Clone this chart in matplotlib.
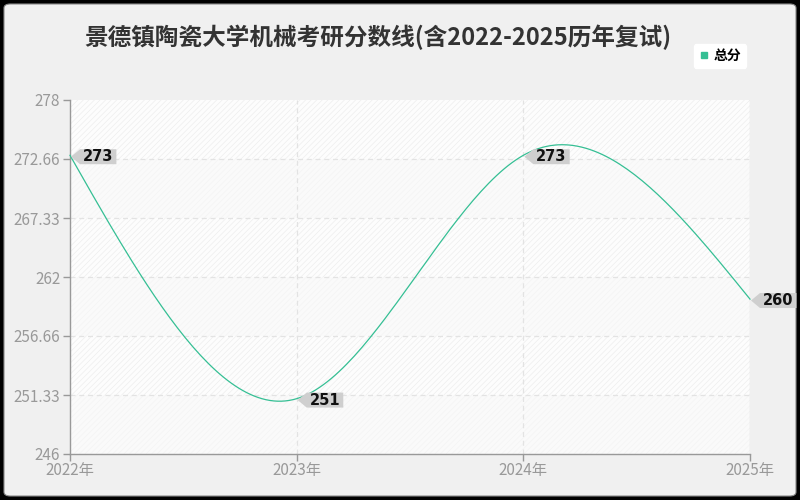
import numpy as np
import matplotlib
matplotlib.use("Agg")
import matplotlib.pyplot as plt
from matplotlib.patches import FancyBboxPatch
from matplotlib.lines import Line2D
from matplotlib.path import Path

plt.rcParams['font.family'] = ['Noto Sans CJK SC', 'DejaVu Sans']
plt.rcParams['hatch.linewidth'] = 0.5

# ---- data ----
years = [2022, 2023, 2024, 2025]
year_labels = ['2022年', '2023年', '2024年', '2025年']
scores = [273, 251, 273, 260]
series_name = '总分'
title = '景德镇陶瓷大学机械考研分数线(含2022-2025历年复试)'
ytick_vals = [246, 251.333, 256.667, 262, 267.333, 272.667, 278]
ytick_labels = ['246', '251.33', '256.66', '262', '267.33', '272.66', '278']

LINE = '#35bf94'
GRAY = '#999999'
DPI = 100


def natural_spline(x, y, n=60):
    x = np.asarray(x, float)
    y = np.asarray(y, float)
    k = len(x)
    h = np.diff(x)
    A = np.zeros((k, k))
    b = np.zeros(k)
    A[0, 0] = A[-1, -1] = 1
    for i in range(1, k - 1):
        A[i, i - 1] = h[i - 1]
        A[i, i] = 2 * (h[i - 1] + h[i])
        A[i, i + 1] = h[i]
        b[i] = 6 * ((y[i + 1] - y[i]) / h[i] - (y[i] - y[i - 1]) / h[i - 1])
    M = np.linalg.solve(A, b)
    xs, ys = [], []
    for i in range(k - 1):
        t = np.linspace(x[i], x[i + 1], n)
        a = (x[i + 1] - t) / h[i]
        c = (t - x[i]) / h[i]
        s = (a * y[i] + c * y[i + 1]
             + ((a ** 3 - a) * M[i] + (c ** 3 - c) * M[i + 1]) * h[i] ** 2 / 6)
        xs.append(t)
        ys.append(s)
    return np.concatenate(xs), np.concatenate(ys)


PAD_X = 3.0   # px
PAD_Y = 0.0   # px
ARROW = 9.0   # px


def tag_box(x0, y0, width, height, mutation_size):
    x0 -= PAD_X
    x1 = x0 + width + 2 * PAD_X
    y0 -= PAD_Y
    y1 = y0 + height + 2 * PAD_Y
    ym = (y0 + y1) / 2
    verts = [(x0 - ARROW, ym), (x0, y0), (x1, y0), (x1, y1), (x0, y1),
             (x0 - ARROW, ym)]
    codes = [Path.MOVETO] + [Path.LINETO] * 4 + [Path.CLOSEPOLY]
    return Path(verts, codes)


fig = plt.figure(figsize=(8, 5), dpi=DPI, facecolor='black')
panel = FancyBboxPatch((4 / 800, 4 / 500), 792 / 800, 492 / 500,
                       boxstyle='round,pad=0,rounding_size=0.008',
                       transform=fig.transFigure, facecolor='#f0f0f0',
                       edgecolor='#8a8a8a', linewidth=0.8, zorder=-10)
fig.patches.append(panel)

ax = fig.add_axes([70 / 800, 46 / 500, 680 / 800, 354 / 500])
ax.set_zorder(1)
ax.set_facecolor('white')
ax.set_xlim(years[0], years[-1])
ax.set_ylim(ytick_vals[0], ytick_vals[-1])

# alternating hatched bands
edges = ytick_vals
for i in range(len(edges) - 1):
    dark = (len(edges) - 2 - i) % 2 == 0
    ax.axhspan(edges[i], edges[i + 1],
               facecolor='#fdfdfd' if dark else '#fafafa',
               edgecolor='#eeeeee' if dark else '#f4f4f4',
               hatch='//////', linewidth=0, zorder=0)

# grid
for v in edges[1:-1]:
    ax.axhline(v, color='#e3e3e3', lw=0.9, ls=(0, (4, 3)), zorder=1)
for yr in years[1:-1]:
    ax.axvline(yr, color='#e3e3e3', lw=0.9, ls=(0, (4, 3)), zorder=1)
ax.axvline(years[-1], color='#e0e0e0', lw=1.0, zorder=1)

xs, ys = natural_spline(years, scores)
ax.plot(xs, ys, color=LINE, lw=0.9, zorder=3, clip_on=False)

off_pt = (PAD_X + ARROW + 1) * 72 / DPI
for x, y in zip(years, scores):
    ax.annotate(str(y), xy=(x, y), xytext=(off_pt, -1), textcoords='offset points',
                ha='left', va='center', fontsize=10.5, color='#111111',
                fontweight='bold', zorder=5, annotation_clip=False,
                family=['DejaVu Sans'],
                bbox=dict(boxstyle=tag_box, fc='#cfcfcf', ec='none'))

for s in ['top', 'right']:
    ax.spines[s].set_visible(False)
for s in ['left', 'bottom']:
    ax.spines[s].set_color(GRAY)
    ax.spines[s].set_linewidth(1.0)

ax.set_yticks(ytick_vals)
ax.set_yticklabels(ytick_labels)
ax.set_xticks(years)
ax.set_xticklabels(year_labels)
ax.tick_params(axis='both', colors=GRAY, labelsize=11, length=5, width=1)
ax.tick_params(axis='x', pad=1)
ax.tick_params(axis='y', pad=2)

fig.text(378 / 800, 1 - 37 / 500, title, ha='center', va='center',
         fontsize=17, fontweight='bold', color='#333333')

leg = fig.legend(handles=[Line2D([], [], marker='s', color=LINE, ls='none',
                                 markersize=4.5)],
                 labels=[series_name], loc='center',
                 bbox_to_anchor=(720 / 800, 1 - 56 / 500),
                 frameon=True, fancybox=True, facecolor='white',
                 edgecolor='white', fontsize=10, handletextpad=0.3,
                 handlelength=0.8, borderpad=0.35)
leg.get_frame().set_alpha(1)
for t in leg.get_texts():
    t.set_fontweight('bold')

fig.savefig('out.png', dpi=DPI, facecolor=fig.get_facecolor())
